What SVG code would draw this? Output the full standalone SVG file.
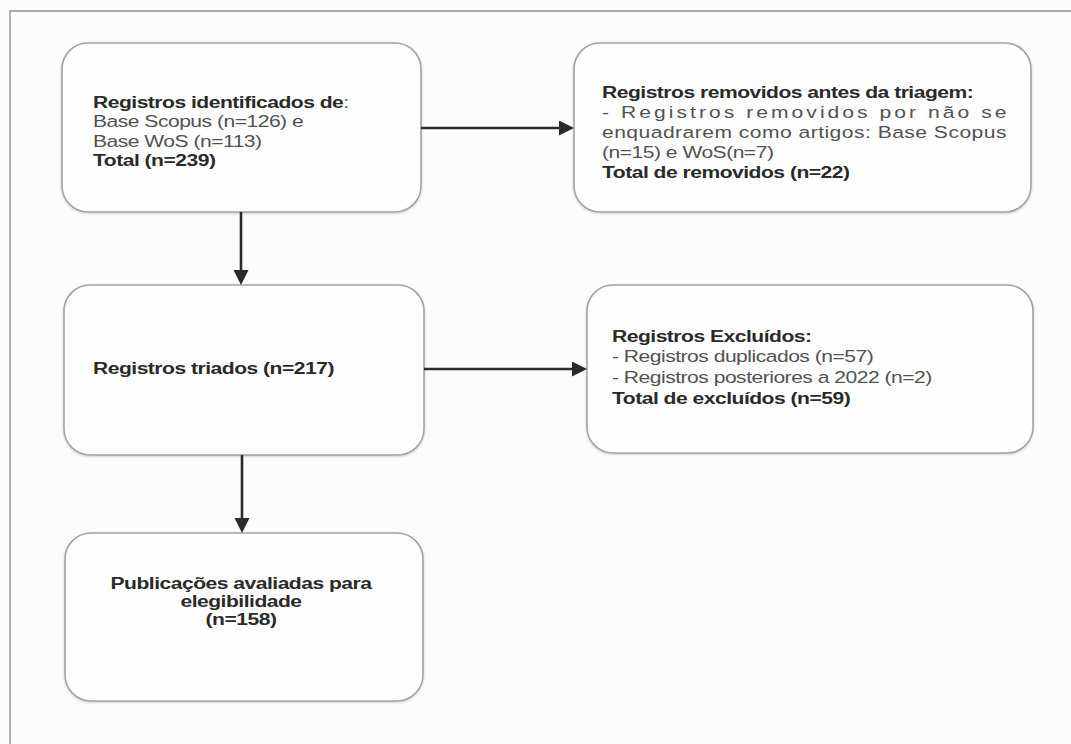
<svg xmlns="http://www.w3.org/2000/svg" width="1071" height="744" viewBox="0 0 1071 744">
<defs>
<marker id="ah" markerUnits="userSpaceOnUse" markerWidth="17" markerHeight="16" refX="2" refY="7.5" orient="auto">
<path d="M0,0 L15,7.5 L0,15 z" fill="#2b2b2b"/>
</marker>
<filter id="sh" x="-5%" y="-5%" width="110%" height="115%">
<feDropShadow dx="0" dy="1" stdDeviation="0.8" flood-color="#000" flood-opacity="0.18"/>
</filter>
</defs>
<style>
.box{fill:#fefefe;stroke:#a3a3a3;stroke-width:1.6;filter:url(#sh)}
.b{font-family:"Liberation Sans",Arial,sans-serif;font-size:17px;letter-spacing:-0.4px;font-weight:bold;fill:#2a2a2a}
.r{font-family:"Liberation Sans",Arial,sans-serif;font-size:17px;letter-spacing:-0.4px;fill:#525252}
.c{font-weight:normal;fill:#525252}
.edge{stroke:#2b2b2b;stroke-width:2.6;fill:none;marker-end:url(#ah)}
.frame{stroke:#8c8c8c;stroke-width:1.3;fill:none}
</style>
<rect width="1071" height="744" fill="#fcfcfc"/>
<path class="frame" d="M10,744 L10,11 L1071,11"/>

<g id="node-identificados">
<rect class="box" x="62" y="43" width="359" height="169" rx="26"/>
<g transform="translate(93,0) scale(1.24,1)">
<text class="b" x="0" y="108">Registros identificados de<tspan class="c">:</tspan></text>
<text class="r" x="0" y="127.5">Base Scopus (n=126) e</text>
<text class="r" x="0" y="147">Base WoS (n=113)</text>
<text class="b" x="0" y="166.5">Total (n=239)</text>
</g>
</g>

<g id="node-removidos">
<rect class="box" x="574" y="43" width="457" height="169" rx="26"/>
<g transform="translate(602,0) scale(1.24,1)">
<text class="b" x="0" y="98">Registros removidos antes da triagem:</text>
<text class="r" x="0" y="118" textLength="325.8" lengthAdjust="spacing">- Registros removidos por não se</text>
<text class="r" x="0" y="138" textLength="325.8" lengthAdjust="spacing">enquadrarem como artigos: Base Scopus</text>
<text class="r" x="0" y="158">(n=15) e WoS(n=7)</text>
<text class="b" x="0" y="178">Total de removidos (n=22)</text>
</g>
</g>

<g id="node-triados">
<rect class="box" x="64" y="285" width="360" height="170" rx="26"/>
<g transform="translate(93,0) scale(1.24,1)">
<text class="b" x="0" y="374">Registros triados (n=217)</text>
</g>
</g>

<g id="node-excluidos">
<rect class="box" x="587" y="285" width="446" height="168" rx="26"/>
<g transform="translate(612,0) scale(1.24,1)">
<text class="b" x="0" y="342">Registros Excluídos:</text>
<text class="r" x="0" y="362.5">- Registros duplicados (n=57)</text>
<text class="r" x="0" y="383">- Registros posteriores a 2022 (n=2)</text>
<text class="b" x="0" y="404">Total de excluídos (n=59)</text>
</g>
</g>

<g id="node-avaliadas">
<rect class="box" x="65" y="533" width="358" height="168" rx="26"/>
<g transform="translate(241,0) scale(1.24,1)">
<text class="b" x="0" y="589" text-anchor="middle">Publicações avaliadas para</text>
<text class="b" x="0" y="607" text-anchor="middle">elegibilidade</text>
<text class="b" x="0" y="625" text-anchor="middle">(n=158)</text>
</g>
</g>

<g id="connectors">
<path class="edge" d="M421,128 L561,128"/>
<path class="edge" d="M241,212 L241,272"/>
<path class="edge" d="M424,369 L574,369"/>
<path class="edge" d="M242,455 L242,520"/>
</g>
</svg>
